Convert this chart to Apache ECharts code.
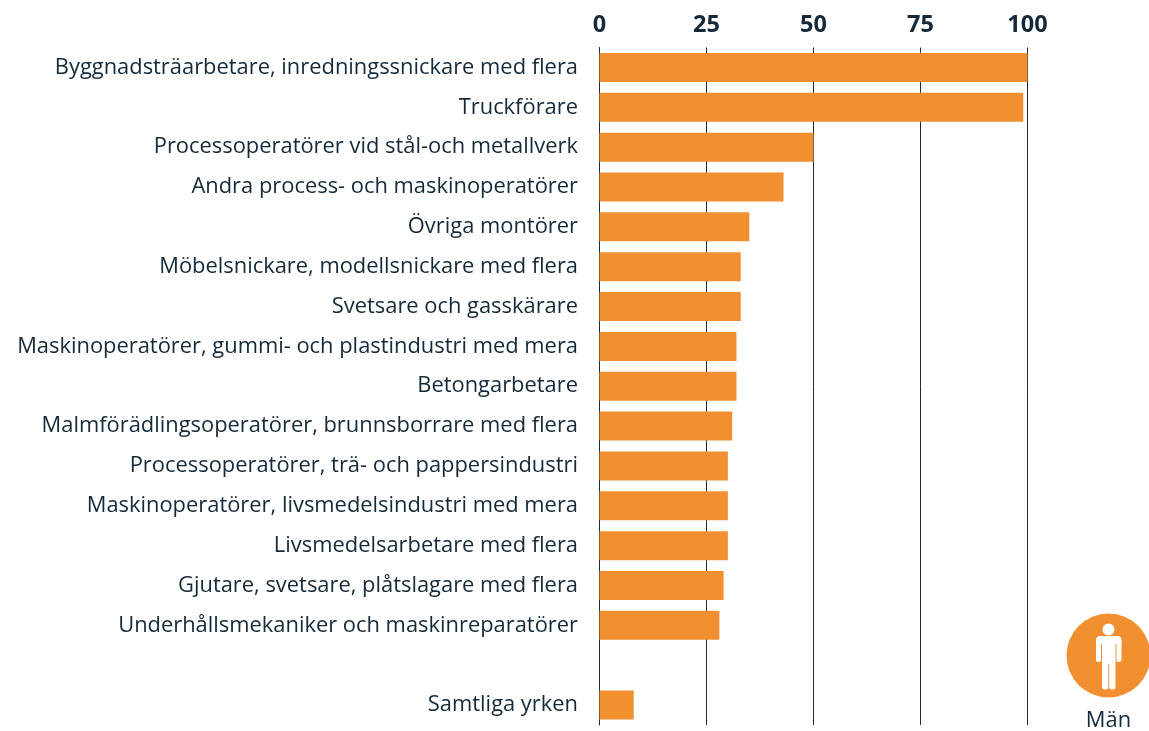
<!DOCTYPE html>
<html><head><meta charset="utf-8">
<style>html,body{margin:0;padding:0;background:#fff}#c{width:1149px;height:731px}</style>
<script src="https://cdn.jsdelivr.net/npm/echarts@6/dist/echarts.min.js"></script>
</head><body><div id="c"></div>
<script>
const categories = ["Byggnadsträarbetare, inredningssnickare med flera","Truckförare","Processoperatörer vid stål-och metallverk","Andra process- och maskinoperatörer","Övriga montörer","Möbelsnickare, modellsnickare med flera","Svetsare och gasskärare","Maskinoperatörer, gummi- och plastindustri med mera","Betongarbetare","Malmförädlingsoperatörer, brunnsborrare med flera","Processoperatörer, trä- och pappersindustri","Maskinoperatörer, livsmedelsindustri med mera","Livsmedelsarbetare med flera","Gjutare, svetsare, plåtslagare med flera","Underhållsmekaniker och maskinreparatörer"," ","Samtliga yrken"];
const values = [100,99,50,43,35,33,33,32,32,31,30,30,30,29,28,null,8];
const ticks = [0,25,50,75,100];
const seriesName = "Män";
const ink = "#14293a", orange = "#f18f31";
const chart = echarts.init(document.getElementById('c'),null,{renderer:'canvas'});
chart.setOption({
  animation:false,
  grid:{left:599.5,top:47.5,width:428,height:677.5,containLabel:false},
  xAxis:{type:'value',position:'top',min:ticks[0],max:ticks[ticks.length-1],interval:25,
    axisLine:{show:false},axisTick:{show:false},
    axisLabel:{color:ink,fontFamily:'Open Sans',fontWeight:'bold',fontSize:23.5,margin:10.5},
    splitLine:{show:true,lineStyle:{color:'#1c2a33',width:1}}},
  yAxis:{type:'category',inverse:true,data:categories,
    axisLine:{show:true,onZero:false,lineStyle:{color:'#1c2a33',width:1}},axisTick:{show:false},
    axisLabel:{color:ink,fontFamily:'Open Sans',fontSize:21.9,margin:21.5,interval:0,padding:[4,0,0,0]}},
  series:[{type:'bar',name:seriesName,data:values,barWidth:29,z:3,itemStyle:{color:orange}}],
  graphic:[
    {type:'circle',shape:{cx:1108.5,cy:655.5,r:42},style:{fill:orange},silent:true},
    {type:'circle',shape:{cx:1108.5,cy:629.5,r:6},style:{fill:'#fff'},silent:true},
    {type:'rect',shape:{x:1096,y:636,width:25.5,height:8,r:[4,4,0,0]},style:{fill:'#fff'},silent:true},
    {type:'rect',shape:{x:1096,y:640,width:5,height:22,r:2},style:{fill:'#fff'},silent:true},
    {type:'rect',shape:{x:1116.5,y:640,width:5,height:22,r:2},style:{fill:'#fff'},silent:true},
    {type:'rect',shape:{x:1102,y:640,width:13.5,height:24},style:{fill:'#fff'},silent:true},
    {type:'rect',shape:{x:1102,y:660,width:6.3,height:29.5,r:2.5},style:{fill:'#fff'},silent:true},
    {type:'rect',shape:{x:1109.2,y:660,width:6.3,height:29.5,r:2.5},style:{fill:'#fff'},silent:true},
    {type:'text',style:{x:1108.5,y:721,text:seriesName,fill:ink,font:'21.9px "Open Sans"',align:'center',verticalAlign:'middle'},silent:true}
  ]
});
</script></body></html>
